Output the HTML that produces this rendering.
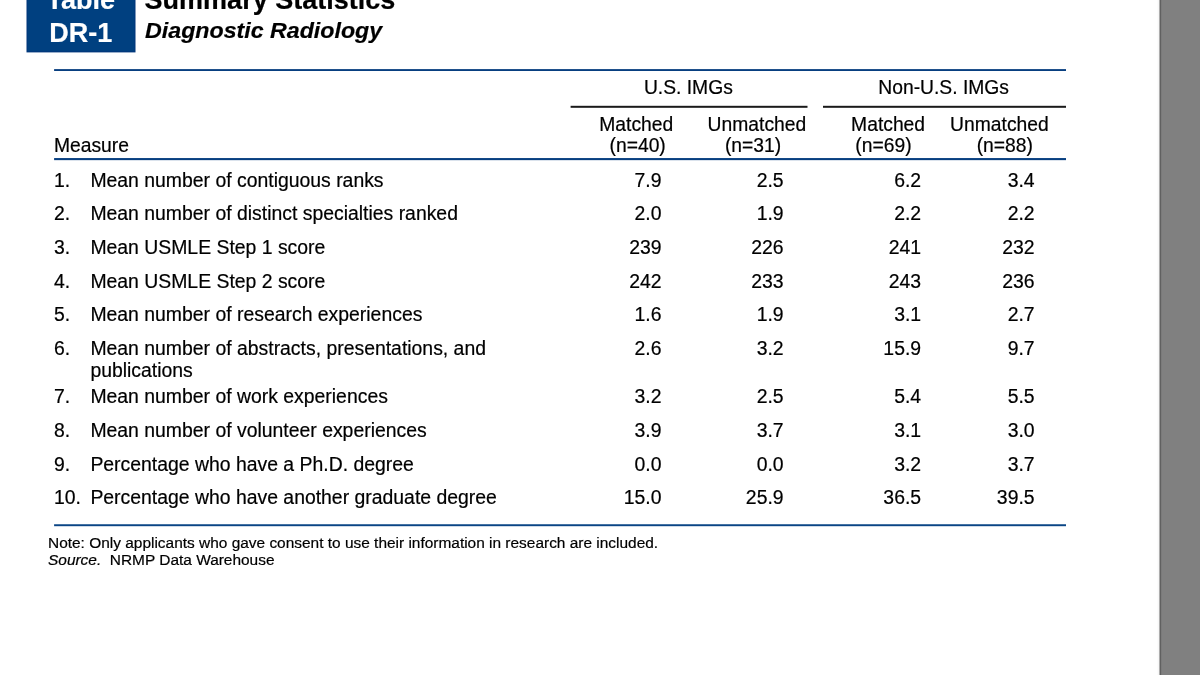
<!DOCTYPE html>
<html lang="en">
<head>
<meta charset="utf-8">
<title>Table DR-1 Summary Statistics - Diagnostic Radiology</title>
<style>
html,body{margin:0;padding:0;}
body{width:1200px;height:675px;overflow:hidden;background:#fff;position:relative;
 font-family:"Liberation Sans",Arial,Helvetica,sans-serif;color:#000;}
.t{position:absolute;white-space:nowrap;-webkit-text-stroke:0.2px #000;}
.b{font-weight:bold;}
.i{font-style:italic;}
.sq{transform:scaleY(0.925);transform-origin:0 21px;}
.w{color:#fff;-webkit-text-stroke:0.2px #fff;}
#art{position:absolute;left:0;top:0;}
</style>
</head>
<body>
<svg id="art" width="1200" height="675" viewBox="0 0 1200 675">
<rect x="1162" y="0" width="38" height="675" fill="#808080"/>
<rect x="1161" y="0" width="1" height="675" fill="#7a7a7a"/>
<rect x="1160" y="0" width="1" height="675" fill="#606060"/>
<rect x="1159" y="0" width="1" height="675" fill="#acacac"/>
<rect x="1158" y="0" width="1" height="675" fill="#f7f7f7"/>
<rect x="1157" y="0" width="1" height="675" fill="#fcfcfc"/>
<rect x="26.5" y="-2" width="109" height="54.4" fill="#00357a"/>
<rect x="27.5" y="-2" width="107" height="53.4" fill="#004080"/>
<rect x="54.1" y="69.1" width="1011.9" height="1.9" fill="#083f80"/>
<rect x="54.1" y="158.05" width="1011.9" height="2.1" fill="#083f80"/>
<rect x="54.1" y="524.25" width="1011.9" height="1.95" fill="#0a4585"/>
<rect x="570.6" y="105.8" width="236.9" height="2" fill="#1a1a1a"/>
<rect x="823.0" y="105.8" width="243" height="2" fill="#1a1a1a"/>
</svg>

<div class="t b w" style="left:46.5px;top:-15px;font-size:27px;line-height:30px">Table</div>
<div class="t b w" style="left:49.3px;top:18px;font-size:27px;line-height:30px">DR-1</div>
<div class="t b" style="left:144.6px;top:-15px;font-size:27px;line-height:30px">Summary Statistics</div>
<div class="t b i sq" style="left:145.1px;top:17px;font-size:23.2px;line-height:26px">Diagnostic Radiology</div>
<div class="t" style="left:643.9px;top:77px;font-size:19.3px;line-height:21px">U.S. IMGs</div>
<div class="t" style="left:878.3px;top:77px;font-size:19.3px;line-height:21px">Non-U.S. IMGs</div>
<div class="t" style="left:599.3px;top:114px;font-size:19.3px;line-height:21px">Matched</div>
<div class="t" style="left:609.5px;top:135px;font-size:19.3px;line-height:21px">(n=40)</div>
<div class="t" style="left:707.6px;top:114px;font-size:19.3px;line-height:21px">Unmatched</div>
<div class="t" style="left:724.9px;top:135px;font-size:19.3px;line-height:21px">(n=31)</div>
<div class="t" style="left:851.1px;top:114px;font-size:19.3px;line-height:21px">Matched</div>
<div class="t" style="left:855.3px;top:135px;font-size:19.3px;line-height:21px">(n=69)</div>
<div class="t" style="left:950.1px;top:114px;font-size:19.3px;line-height:21px">Unmatched</div>
<div class="t" style="left:976.7px;top:135px;font-size:19.3px;line-height:21px">(n=88)</div>
<div class="t" style="left:53.9px;top:135px;font-size:19.3px;line-height:21px">Measure</div>
<div class="t" style="left:54.0px;top:169px;font-size:19.4px;line-height:22px">1.</div>
<div class="t" style="left:90.4px;top:169px;font-size:19.4px;line-height:22px">Mean number of contiguous ranks</div>
<div class="t" style="right:538.5px;top:169px;font-size:19.4px;line-height:22px">7.9</div>
<div class="t" style="right:416.4px;top:169px;font-size:19.4px;line-height:22px">2.5</div>
<div class="t" style="right:278.9px;top:169px;font-size:19.4px;line-height:22px">6.2</div>
<div class="t" style="right:165.4px;top:169px;font-size:19.4px;line-height:22px">3.4</div>
<div class="t" style="left:54.0px;top:202px;font-size:19.4px;line-height:22px">2.</div>
<div class="t" style="left:90.4px;top:202px;font-size:19.4px;line-height:22px">Mean number of distinct specialties ranked</div>
<div class="t" style="right:538.5px;top:202px;font-size:19.4px;line-height:22px">2.0</div>
<div class="t" style="right:416.4px;top:202px;font-size:19.4px;line-height:22px">1.9</div>
<div class="t" style="right:278.9px;top:202px;font-size:19.4px;line-height:22px">2.2</div>
<div class="t" style="right:165.4px;top:202px;font-size:19.4px;line-height:22px">2.2</div>
<div class="t" style="left:54.0px;top:236px;font-size:19.4px;line-height:22px">3.</div>
<div class="t" style="left:90.4px;top:236px;font-size:19.4px;line-height:22px">Mean USMLE Step 1 score</div>
<div class="t" style="right:538.5px;top:236px;font-size:19.4px;line-height:22px">239</div>
<div class="t" style="right:416.4px;top:236px;font-size:19.4px;line-height:22px">226</div>
<div class="t" style="right:278.9px;top:236px;font-size:19.4px;line-height:22px">241</div>
<div class="t" style="right:165.4px;top:236px;font-size:19.4px;line-height:22px">232</div>
<div class="t" style="left:54.0px;top:270px;font-size:19.4px;line-height:22px">4.</div>
<div class="t" style="left:90.4px;top:270px;font-size:19.4px;line-height:22px">Mean USMLE Step 2 score</div>
<div class="t" style="right:538.5px;top:270px;font-size:19.4px;line-height:22px">242</div>
<div class="t" style="right:416.4px;top:270px;font-size:19.4px;line-height:22px">233</div>
<div class="t" style="right:278.9px;top:270px;font-size:19.4px;line-height:22px">243</div>
<div class="t" style="right:165.4px;top:270px;font-size:19.4px;line-height:22px">236</div>
<div class="t" style="left:54.0px;top:303px;font-size:19.4px;line-height:22px">5.</div>
<div class="t" style="left:90.4px;top:303px;font-size:19.4px;line-height:22px">Mean number of research experiences</div>
<div class="t" style="right:538.5px;top:303px;font-size:19.4px;line-height:22px">1.6</div>
<div class="t" style="right:416.4px;top:303px;font-size:19.4px;line-height:22px">1.9</div>
<div class="t" style="right:278.9px;top:303px;font-size:19.4px;line-height:22px">3.1</div>
<div class="t" style="right:165.4px;top:303px;font-size:19.4px;line-height:22px">2.7</div>
<div class="t" style="left:54.0px;top:337px;font-size:19.4px;line-height:22px">6.</div>
<div class="t" style="left:90.4px;top:337px;font-size:19.4px;line-height:22px">Mean number of abstracts, presentations, and</div>
<div class="t" style="right:538.5px;top:337px;font-size:19.4px;line-height:22px">2.6</div>
<div class="t" style="right:416.4px;top:337px;font-size:19.4px;line-height:22px">3.2</div>
<div class="t" style="right:278.9px;top:337px;font-size:19.4px;line-height:22px">15.9</div>
<div class="t" style="right:165.4px;top:337px;font-size:19.4px;line-height:22px">9.7</div>
<div class="t" style="left:54.0px;top:385px;font-size:19.4px;line-height:22px">7.</div>
<div class="t" style="left:90.4px;top:385px;font-size:19.4px;line-height:22px">Mean number of work experiences</div>
<div class="t" style="right:538.5px;top:385px;font-size:19.4px;line-height:22px">3.2</div>
<div class="t" style="right:416.4px;top:385px;font-size:19.4px;line-height:22px">2.5</div>
<div class="t" style="right:278.9px;top:385px;font-size:19.4px;line-height:22px">5.4</div>
<div class="t" style="right:165.4px;top:385px;font-size:19.4px;line-height:22px">5.5</div>
<div class="t" style="left:54.0px;top:419px;font-size:19.4px;line-height:22px">8.</div>
<div class="t" style="left:90.4px;top:419px;font-size:19.4px;line-height:22px">Mean number of volunteer experiences</div>
<div class="t" style="right:538.5px;top:419px;font-size:19.4px;line-height:22px">3.9</div>
<div class="t" style="right:416.4px;top:419px;font-size:19.4px;line-height:22px">3.7</div>
<div class="t" style="right:278.9px;top:419px;font-size:19.4px;line-height:22px">3.1</div>
<div class="t" style="right:165.4px;top:419px;font-size:19.4px;line-height:22px">3.0</div>
<div class="t" style="left:54.0px;top:453px;font-size:19.4px;line-height:22px">9.</div>
<div class="t" style="left:90.4px;top:453px;font-size:19.4px;line-height:22px">Percentage who have a Ph.D. degree</div>
<div class="t" style="right:538.5px;top:453px;font-size:19.4px;line-height:22px">0.0</div>
<div class="t" style="right:416.4px;top:453px;font-size:19.4px;line-height:22px">0.0</div>
<div class="t" style="right:278.9px;top:453px;font-size:19.4px;line-height:22px">3.2</div>
<div class="t" style="right:165.4px;top:453px;font-size:19.4px;line-height:22px">3.7</div>
<div class="t" style="left:54.0px;top:486px;font-size:19.4px;line-height:22px">10.</div>
<div class="t" style="left:90.4px;top:486px;font-size:19.4px;line-height:22px">Percentage who have another graduate degree</div>
<div class="t" style="right:538.5px;top:486px;font-size:19.4px;line-height:22px">15.0</div>
<div class="t" style="right:416.4px;top:486px;font-size:19.4px;line-height:22px">25.9</div>
<div class="t" style="right:278.9px;top:486px;font-size:19.4px;line-height:22px">36.5</div>
<div class="t" style="right:165.4px;top:486px;font-size:19.4px;line-height:22px">39.5</div>
<div class="t" style="left:90.4px;top:359px;font-size:19.4px;line-height:22px">publications</div>
<div class="t" style="left:48.0px;top:534px;font-size:15.45px;line-height:17px">Note: Only applicants who gave consent to use their information in research are included.</div>
<div class="t" style="left:48.0px;top:551px;font-size:15.45px;line-height:17px"><i>Source.</i>&nbsp; NRMP Data Warehouse</div>
</body>
</html>
